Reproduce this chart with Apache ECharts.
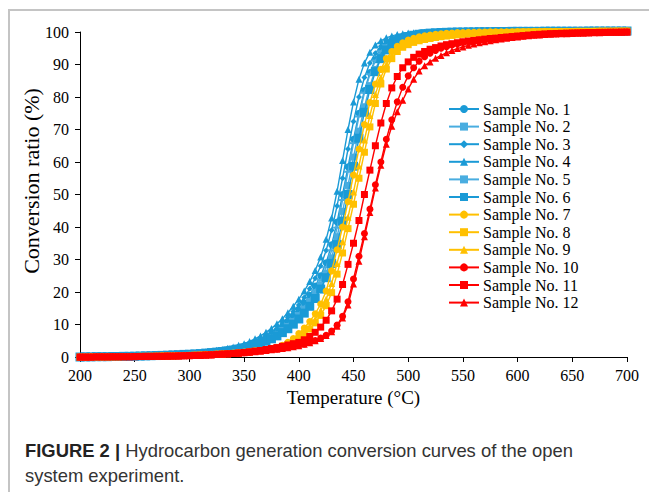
<!DOCTYPE html>
<html>
<head>
<meta charset="utf-8">
<script src="https://cdn.jsdelivr.net/npm/echarts@6/dist/echarts.min.js"></script>
<style>
html,body{margin:0;padding:0;background:#fff;}
#frame{position:absolute;left:8px;top:9px;width:700px;height:600px;border-left:2px solid #c4c4c4;border-top:2px solid #c4c4c4;}
#chart{position:absolute;left:0;top:0;width:649px;height:492px;}
</style>
</head>
<body>
<div id="frame"></div>
<div id="chart"></div>
<script>
// Temperatures (°C), 5 °C steps from 200 to 700
const temps = [];
for (let t = 200; t <= 700; t += 5) temps.push(t);

const xTicks = [200,250,300,350,400,450,500,550,600,650,700];
const yTicks = [0,10,20,30,40,50,60,70,80,90,100];

const names = ['Sample No. 1','Sample No. 2','Sample No. 3','Sample No. 4','Sample No. 5','Sample No. 6',
               'Sample No. 7','Sample No. 8','Sample No. 9','Sample No. 10','Sample No. 11','Sample No. 12'];

const s1 = [0,0.05,0.05,0.1,0.1,0.15,0.15,0.2,0.25,0.25,0.3,0.35,0.4,0.45,0.5,0.55,0.65,0.7,0.8,0.9,
  1.0,1.1,1.25,1.4,1.6,1.8,2.0,2.3,2.6,3.0,3.4,3.9,4.5,5.2,6.0,7.0,8.1,9.4,10.9,12.6,
  14.5,16.6,19.0,21.8,25.0,29.0,34.5,41.5,50,58.5,67,75,82,87.5,91.5,94.3,96,97.2,98,98.6,
  99.0,99.3,99.5,99.65,99.75,99.85,99.9,99.95,100,100,100.05,100.05,100.1,100.1,100.1,100.15,100.15,100.15,100.15,100.2,
  100.2,100.2,100.2,100.2,100.2,100.25,100.25,100.25,100.25,100.25,100.25,100.25,100.25,100.3,100.3,100.3,100.3,100.3,100.3,100.3,100.3];
const s2 = [0,0.05,0.05,0.1,0.1,0.1,0.15,0.15,0.2,0.2,0.25,0.3,0.35,0.4,0.45,0.5,0.55,0.65,0.7,0.8,
  0.9,1.0,1.1,1.25,1.4,1.6,1.8,2.05,2.3,2.6,3.0,3.4,3.9,4.5,5.2,6.0,7.0,8.1,9.4,10.9,
  12.6,14.5,16.7,19.2,22.2,25.8,30.5,37,44.8,52.8,61.5,69.5,77,83.5,88.5,92.2,94.7,96.3,97.4,98.1,
  98.6,99,99.3,99.5,99.65,99.75,99.85,99.9,99.95,100,100,100.05,100.05,100.1,100.1,100.1,100.15,100.15,100.15,100.2,
  100.2,100.2,100.2,100.2,100.2,100.25,100.25,100.25,100.25,100.25,100.25,100.25,100.25,100.3,100.3,100.3,100.3,100.3,100.3,100.3,100.3];
const s3 = [0,0.05,0.05,0.1,0.1,0.15,0.15,0.2,0.25,0.25,0.3,0.35,0.4,0.45,0.5,0.55,0.65,0.7,0.8,0.9,
  1.05,1.15,1.3,1.5,1.7,1.9,2.15,2.45,2.8,3.2,3.65,4.2,4.85,5.6,6.5,7.6,8.8,10.5,12.2,14.0,
  16.0,18.3,21.0,24.2,28.0,32.8,39,46.5,55,64,72.5,80,86,90.5,93.5,95.6,97,98,98.6,99.1,
  99.4,99.6,99.75,99.85,99.9,99.95,100,100,100.05,100.05,100.1,100.1,100.1,100.15,100.15,100.15,100.15,100.2,100.2,100.2,
  100.2,100.2,100.2,100.2,100.2,100.25,100.25,100.25,100.25,100.25,100.25,100.25,100.25,100.3,100.3,100.3,100.3,100.3,100.3,100.3,100.3];
const s4 = [0,0.05,0.1,0.1,0.15,0.15,0.2,0.2,0.25,0.3,0.35,0.4,0.45,0.5,0.55,0.6,0.7,0.8,0.9,1.0,
  1.1,1.25,1.4,1.6,1.8,2.05,2.35,2.7,3.1,3.6,4.1,4.8,5.6,6.5,7.6,8.8,10.2,11.8,13.6,15.6,
  17.8,20.3,23.2,26.6,30.8,36.2,42.8,51,60.5,70,78.5,85.5,90.5,93.8,96,97.3,98.2,98.8,99.2,99.5,
  99.7,99.8,99.9,99.95,100,100,100.05,100.05,100.1,100.1,100.1,100.15,100.15,100.15,100.15,100.2,100.2,100.2,100.2,100.2,
  100.2,100.2,100.2,100.2,100.2,100.25,100.25,100.25,100.25,100.25,100.25,100.25,100.25,100.3,100.3,100.3,100.3,100.3,100.3,100.3,100.3];
const s5 = [0,0.05,0.05,0.1,0.1,0.15,0.15,0.2,0.25,0.25,0.3,0.35,0.4,0.45,0.5,0.55,0.65,0.7,0.8,0.9,
  0.95,1.05,1.2,1.35,1.5,1.7,1.9,2.15,2.45,2.8,3.2,3.65,4.2,4.85,5.6,6.5,7.5,8.7,10.1,11.7,
  13.5,15.5,17.8,20.5,23.7,27.6,32.8,39.8,48.3,57,65.8,74,81.3,87,91.2,94.1,95.9,97.1,97.9,98.5,
  98.9,99.2,99.45,99.6,99.7,99.8,99.85,99.9,99.95,100,100,100.05,100.05,100.1,100.1,100.1,100.15,100.15,100.15,100.2,
  100.2,100.2,100.2,100.2,100.2,100.25,100.25,100.25,100.25,100.25,100.25,100.25,100.25,100.3,100.3,100.3,100.3,100.3,100.3,100.3,100.3];
const s6 = [0,0.05,0.05,0.1,0.1,0.1,0.15,0.15,0.2,0.2,0.25,0.3,0.35,0.4,0.45,0.5,0.55,0.65,0.7,0.8,
  0.85,0.95,1.05,1.2,1.35,1.5,1.7,1.9,2.15,2.45,2.8,3.2,3.65,4.2,4.85,5.6,6.5,7.5,8.7,10.1,
  11.7,13.5,15.6,18,20.9,24.4,28.8,34.6,41.8,50,58.7,67.3,75.3,82.3,87.8,91.8,94.5,96.2,97.3,98.1,
  98.6,99,99.3,99.5,99.65,99.75,99.85,99.9,99.95,100,100,100.05,100.05,100.1,100.1,100.1,100.15,100.15,100.15,100.2,
  100.2,100.2,100.2,100.2,100.2,100.25,100.25,100.25,100.25,100.25,100.25,100.25,100.25,100.3,100.3,100.3,100.3,100.3,100.3,100.3,100.3];
const s7 = [0,0,0.05,0.05,0.05,0.1,0.1,0.1,0.15,0.15,0.2,0.2,0.25,0.25,0.3,0.35,0.4,0.4,0.45,0.5,
  0.55,0.6,0.7,0.8,0.85,0.95,1.0,1.1,1.2,1.35,1.5,1.7,1.9,2.1,2.3,2.6,3.0,3.6,4.5,5.7,
  7.2,8.9,10.9,13.3,16.3,20.3,26.5,33,40,47.8,56,64,71.5,78.3,84,88.5,91.8,94,95.6,96.7,
  97.5,98.1,98.5,98.85,99.1,99.3,99.45,99.6,99.7,99.8,99.85,99.9,99.95,100,100,100.05,100.05,100.1,100.1,100.1,
  100.15,100.15,100.15,100.2,100.2,100.2,100.2,100.2,100.25,100.25,100.25,100.25,100.25,100.25,100.3,100.3,100.3,100.3,100.3,100.3,100.3];
const s8 = [0,0,0.05,0.05,0.05,0.05,0.1,0.1,0.1,0.15,0.15,0.2,0.2,0.25,0.25,0.3,0.3,0.35,0.4,0.45,
  0.5,0.55,0.6,0.7,0.75,0.85,0.9,1.0,1.1,1.25,1.4,1.55,1.75,1.95,2.15,2.4,2.7,3.1,3.7,4.5,
  5.6,7.0,8.6,10.5,12.8,15.8,19.8,25.5,32,39.5,47,55,63,70.8,78,84,88.6,91.8,94,95.3,
  96.1,96.8,97.3,97.7,98.0,98.3,98.55,98.75,98.95,99.1,99.25,99.35,99.45,99.55,99.6,99.7,99.75,99.8,99.85,99.9,
  99.95,100,100,100.05,100.05,100.1,100.1,100.1,100.15,100.15,100.15,100.2,100.2,100.2,100.2,100.25,100.25,100.25,100.3,100.3,100.3];
const s9 = [0,0,0.05,0.05,0.05,0.1,0.1,0.1,0.15,0.15,0.2,0.2,0.25,0.25,0.3,0.35,0.4,0.4,0.45,0.5,
  0.5,0.6,0.65,0.75,0.8,0.9,0.95,1.05,1.15,1.3,1.45,1.6,1.8,2.0,2.25,2.5,2.85,3.3,4.0,4.9,
  6.1,7.6,9.4,11.6,14.3,17.8,22.6,28.8,35.5,43,50.8,58.8,66.8,74.3,80.8,86,89.9,92.7,94.6,95.9,
  96.8,97.5,98,98.4,98.7,98.95,99.15,99.3,99.45,99.55,99.65,99.72,99.8,99.85,99.9,99.95,100,100,100.05,100.05,
  100.1,100.1,100.1,100.15,100.15,100.15,100.2,100.2,100.2,100.2,100.25,100.25,100.25,100.25,100.25,100.3,100.3,100.3,100.3,100.3,100.3];
const s10 = [0,0,0,0.05,0.05,0.05,0.1,0.1,0.1,0.1,0.15,0.15,0.2,0.2,0.25,0.25,0.3,0.3,0.35,0.4,
  0.45,0.5,0.55,0.6,0.7,0.8,0.9,1.0,1.1,1.2,1.35,1.5,1.7,1.9,2.1,2.3,2.5,2.7,2.95,3.25,
  3.6,4.0,4.5,5.1,5.8,6.7,8.0,9.8,12.5,17,24,31,38,45.5,53,60,67,73,78.5,83,
  86.5,89,91,92.4,93.5,94.3,95,95.5,96,96.4,96.8,97.1,97.3,97.5,97.7,97.9,98.05,98.2,98.35,98.5,
  98.65,98.8,98.95,99.1,99.2,99.3,99.4,99.5,99.55,99.6,99.65,99.7,99.75,99.8,99.85,99.85,99.9,99.9,99.95,99.95,100];
const s11 = [0,0,0,0.05,0.05,0.05,0.1,0.1,0.1,0.1,0.15,0.15,0.2,0.2,0.25,0.25,0.3,0.3,0.35,0.4,
  0.45,0.5,0.55,0.65,0.7,0.8,0.9,1.0,1.1,1.25,1.4,1.6,1.8,2.0,2.3,2.6,2.9,3.3,3.7,4.1,
  4.5,5.3,6.3,7.6,9.2,11.3,14.2,17.8,22.3,28.5,35,42,50,57.5,65,72,78,82.8,86.3,89,
  90.8,92.2,93.2,94,94.7,95.2,95.7,96.1,96.4,96.7,97,97.2,97.4,97.6,97.8,98,98.1,98.3,98.45,98.6,
  98.75,98.9,99.05,99.2,99.3,99.4,99.5,99.55,99.6,99.65,99.7,99.75,99.8,99.85,99.85,99.9,99.9,99.95,99.95,100,100];
const s12 = [0,0,0,0.05,0.05,0.05,0.05,0.1,0.1,0.1,0.1,0.15,0.15,0.2,0.2,0.25,0.25,0.3,0.3,0.35,
  0.4,0.45,0.5,0.55,0.65,0.75,0.85,0.95,1.05,1.15,1.3,1.45,1.6,1.8,2.0,2.2,2.4,2.6,2.85,3.15,
  3.5,3.9,4.4,5.0,5.7,6.6,7.8,9.5,12,16,22.5,29.5,37,44.5,52,59,65.5,71,75.5,79,
  82.5,85.5,88,89.6,90.8,91.9,92.8,93.6,94.3,94.9,95.4,95.9,96.3,96.7,97,97.3,97.6,97.85,98.1,98.3,
  98.5,98.7,98.85,99,99.1,99.2,99.3,99.4,99.45,99.5,99.55,99.6,99.65,99.7,99.75,99.8,99.85,99.9,99.9,99.95,100];

const values = [s1,s2,s3,s4,s5,s6,s7,s8,s9,s10,s11,s12];

const BLUE = '#1a9ad6', BLUE_L = '#49ade0', YEL = '#ffc000', RED = '#ff0000';
const styles = [
  {c: BLUE,   sym: 'circle',   size: 7},
  {c: BLUE_L, sym: 'rect',     size: 7},
  {c: BLUE,   sym: 'diamond',  size: 6},
  {c: BLUE,   sym: 'triangle', size: 7},
  {c: BLUE_L, sym: 'rect',     size: [8,2]},
  {c: BLUE,   sym: 'rect',     size: 9},
  {c: YEL,    sym: 'circle',   size: 7},
  {c: YEL,    sym: 'rect',     size: 7},
  {c: YEL,    sym: 'triangle', size: 7},
  {c: RED,    sym: 'circle',   size: 7},
  {c: RED,    sym: 'rect',     size: 7},
  {c: RED,    sym: 'triangle', size: 7}
];

const series = values.map((vals, i) => ({
  name: names[i],
  type: 'line',
  data: temps.map((t, k) => [t, vals[k]]),
  symbol: styles[i].sym,
  symbolSize: styles[i].size,
  showSymbol: true,
  clip: false,
  lineStyle: {color: styles[i].c, width: 1.4},
  itemStyle: {color: styles[i].c},
  emphasis: {disabled: true},
  z: 2 + i
}));

const serif = '"Liberation Serif", "Times New Roman", serif';
const sans = '"Liberation Sans", Arial, sans-serif';
const chart = echarts.init(document.getElementById('chart'), null, {renderer: 'svg'});
chart.setOption({
  animation: false,
  backgroundColor: 'transparent',
  grid: {left: 80, right: 22, top: 32, bottom: 135, containLabel: false},
  xAxis: {
    type: 'value', min: 200, max: 700, interval: 50,
    name: 'Temperature (°C)', nameLocation: 'middle', nameGap: 27,
    nameTextStyle: {fontFamily: serif, fontSize: 19, color: '#000'},
    axisLine: {lineStyle: {color: '#000', width: 1}},
    axisTick: {show: true, inside: false, length: 5, lineStyle: {color: '#000'}},
    axisLabel: {fontFamily: serif, fontSize: 16, color: '#000', margin: 10,
      formatter: v => xTicks.includes(v) ? String(v) : ''},
    splitLine: {show: false}
  },
  yAxis: {
    type: 'value', min: 0, max: 100, interval: 10,
    axisLine: {show: true, lineStyle: {color: '#000', width: 1}},
    axisTick: {show: true, inside: false, length: 5, lineStyle: {color: '#000'}},
    axisLabel: {fontFamily: serif, fontSize: 16, color: '#000', margin: 11,
      formatter: v => yTicks.includes(v) ? String(v) : ''},
    splitLine: {show: false}
  },
  legend: {
    orient: 'vertical', left: 443, top: 96,
    itemWidth: 30, itemHeight: 10, itemGap: 1.6,
    textStyle: {fontFamily: serif, fontSize: 16, color: '#000', lineHeight: 14, padding: [0,0,0,-1]},
    data: names
  },
  graphic: [
    {
      type: 'text', x: 31, y: 181, rotation: Math.PI / 2,
      style: {
        text: 'Conversion ratio (%)',
        font: '22px "Liberation Serif", "Times New Roman", serif',
        fill: '#000', textAlign: 'center', textVerticalAlign: 'middle'
      }
    },
    {
      type: 'text', left: 25, top: 438,
      style: {
        text: '{b|FIGURE 2 |} Hydrocarbon generation conversion curves of the open\nsystem experiment.',
        font: '18.4px "Liberation Sans", Arial, sans-serif',
        fill: '#333', lineHeight: 25,
        rich: {b: {fontWeight: 'bold', fontSize: 18.4, fontFamily: sans, fill: '#222', lineHeight: 25}}
      }
    }
  ],
  series: series
});
</script>
</body>
</html>
